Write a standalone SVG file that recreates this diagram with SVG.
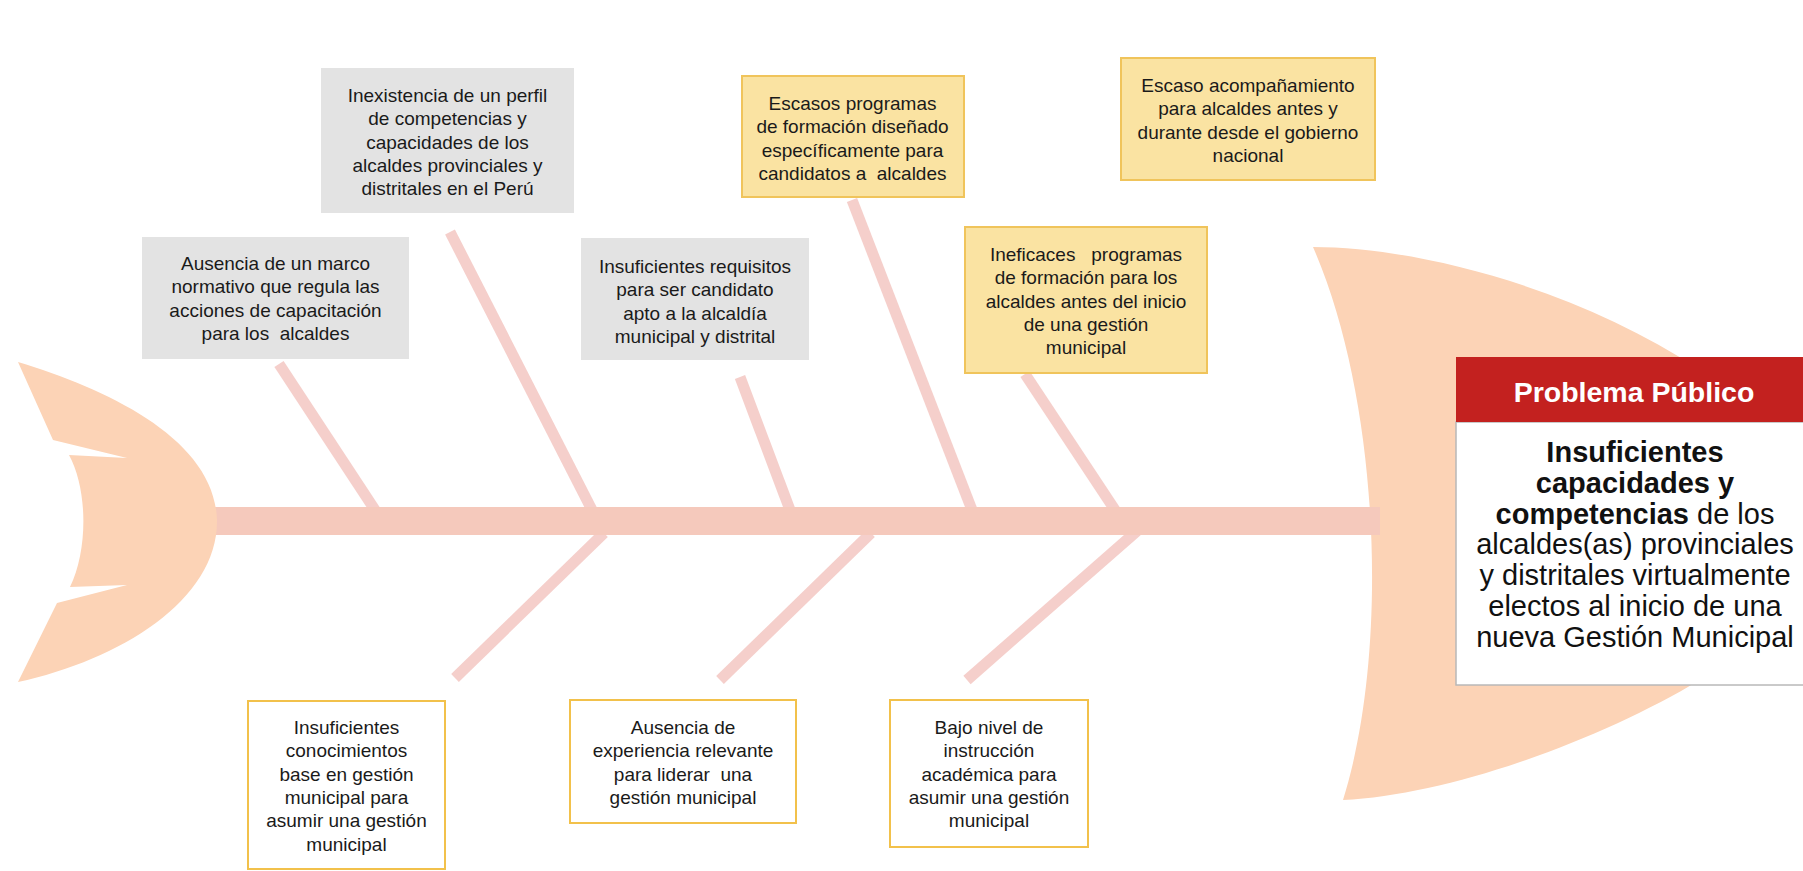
<svg xmlns="http://www.w3.org/2000/svg" width="1803" height="871" viewBox="0 0 1803 871">
<style>
.t{font-family:"Liberation Sans",Arial,sans-serif;font-size:19px;fill:#1a1a1a;text-anchor:middle}
.gray{fill:#e3e3e3}
.yel{fill:#fae3a2;stroke:#f0c45b;stroke-width:2}
.wb{fill:#ffffff;stroke:#f2c14b;stroke-width:2}
.bone{stroke:#f5cfcb;stroke-width:11;stroke-linecap:butt;fill:none}
.fish{fill:#fcd3b6}
.pb{font-family:"Liberation Sans",Arial,sans-serif;font-size:29px;fill:#111;text-anchor:middle}
</style>
<rect width="1803" height="871" fill="#ffffff"/>
<g id="fish">
<path id="head" class="fish" d="M1313,247 C1420,247 1580,290 1700,370 L1810,420 L1810,680 L1700,680 C1600,740 1450,795 1343,800 C1390,650 1380,400 1313,247 Z"/>
</g>
<g id="connectors">
<line class="bone" x1="279" y1="364" x2="375" y2="510"/>
<line class="bone" x1="450" y1="232" x2="592" y2="510"/>
<line class="bone" x1="740" y1="377" x2="790" y2="510"/>
<line class="bone" x1="852" y1="200" x2="972" y2="510"/>
<line class="bone" x1="1025" y1="374" x2="1115" y2="510"/>
<line class="bone" x1="604" y1="533" x2="455" y2="678"/>
<line class="bone" x1="871" y1="533" x2="720" y2="680"/>
<line class="bone" x1="1137" y1="531" x2="967" y2="680"/>
<rect id="spine" x="205" y="507" width="1175" height="28" fill="#f5c9bc"/>
</g>
<g id="tail">
<path class="fish" d="M18,362 C110,390 215,440 217,520 C218,600 120,660 18,682 L57,603 L127,585 L70,587 C88,550 88,490 69,455 L127,458 L53,440 Z"/>
</g>
<g id="n1">
<rect class="gray" x="321" y="68" width="253" height="145"/>
<text class="t"><tspan x="447.5" y="102">Inexistencia de un perfil</tspan><tspan x="447.5" y="125.3">de competencias y</tspan><tspan x="447.5" y="148.6">capacidades de los</tspan><tspan x="447.5" y="171.9">alcaldes provinciales y</tspan><tspan x="447.5" y="195.2">distritales en el Perú</tspan></text>
</g>
<g id="n2">
<rect class="gray" x="142" y="237" width="267" height="122"/>
<text class="t"><tspan x="275.5" y="270">Ausencia de un marco</tspan><tspan x="275.5" y="293.3">normativo que regula las</tspan><tspan x="275.5" y="316.6">acciones de capacitación</tspan><tspan x="275.5" y="339.9">para los&#160; alcaldes</tspan></text>
</g>
<g id="n3">
<rect class="gray" x="581" y="238" width="228" height="122"/>
<text class="t"><tspan x="695" y="273">Insuficientes requisitos</tspan><tspan x="695" y="296.3">para ser candidato</tspan><tspan x="695" y="319.6">apto a la alcaldía</tspan><tspan x="695" y="342.9">municipal y distrital</tspan></text>
</g>
<g id="n4">
<rect class="yel" x="742" y="76" width="222" height="121"/>
<text class="t"><tspan x="852.5" y="110">Escasos programas</tspan><tspan x="852.5" y="133.3">de formación diseñado</tspan><tspan x="852.5" y="156.6">específicamente para</tspan><tspan x="852.5" y="179.9">candidatos a&#160; alcaldes</tspan></text>
</g>
<g id="n5">
<rect class="yel" x="1121" y="58" width="254" height="122"/>
<text class="t"><tspan x="1248" y="92">Escaso acompañamiento</tspan><tspan x="1248" y="115.3">para alcaldes antes y</tspan><tspan x="1248" y="138.6">durante desde el gobierno</tspan><tspan x="1248" y="161.9">nacional</tspan></text>
</g>
<g id="n6">
<rect class="yel" x="965" y="227" width="242" height="146"/>
<text class="t"><tspan x="1086" y="261">Ineficaces&#160;&#160; programas</tspan><tspan x="1086" y="284.3">de formación para los</tspan><tspan x="1086" y="307.6">alcaldes antes del inicio</tspan><tspan x="1086" y="330.9">de una gestión</tspan><tspan x="1086" y="354.2">municipal</tspan></text>
</g>
<g id="n7">
<rect class="wb" x="248" y="701" width="197" height="168"/>
<text class="t"><tspan x="346.5" y="734">Insuficientes</tspan><tspan x="346.5" y="757.3">conocimientos</tspan><tspan x="346.5" y="780.6">base en gestión</tspan><tspan x="346.5" y="803.9">municipal para</tspan><tspan x="346.5" y="827.2">asumir una gestión</tspan><tspan x="346.5" y="850.5">municipal</tspan></text>
</g>
<g id="n8">
<rect class="wb" x="570" y="700" width="226" height="123"/>
<text class="t"><tspan x="683" y="734">Ausencia de</tspan><tspan x="683" y="757.3">experiencia relevante</tspan><tspan x="683" y="780.6">para liderar&#160; una</tspan><tspan x="683" y="803.9">gestión municipal</tspan></text>
</g>
<g id="n9">
<rect class="wb" x="890" y="700" width="198" height="147"/>
<text class="t"><tspan x="989" y="734">Bajo nivel de</tspan><tspan x="989" y="757.3">instrucción</tspan><tspan x="989" y="780.6">académica para</tspan><tspan x="989" y="803.9">asumir una gestión</tspan><tspan x="989" y="827.2">municipal</tspan></text>
</g>
<g id="problem">
<rect x="1456" y="422" width="360" height="263" fill="#ffffff" stroke="#b8b8b8" stroke-width="1.5"/>
<rect x="1456" y="357" width="360" height="65" fill="#c3211f"/>
<text class="pb" x="1634" y="402" style="font-weight:bold;fill:#ffffff;font-size:28.5px">Problema Público</text>
<text class="pb"><tspan x="1635" y="462" font-weight="bold">Insuficientes</tspan><tspan x="1635" y="492.8" font-weight="bold">capacidades y</tspan><tspan x="1635" y="523.6"><tspan font-weight="bold">competencias</tspan> de los</tspan><tspan x="1635" y="554.4">alcaldes(as) provinciales</tspan><tspan x="1635" y="585.2">y distritales virtualmente</tspan><tspan x="1635" y="616">electos al inicio de una</tspan><tspan x="1635" y="646.8">nueva Gestión Municipal</tspan></text>
</g>
</svg>
